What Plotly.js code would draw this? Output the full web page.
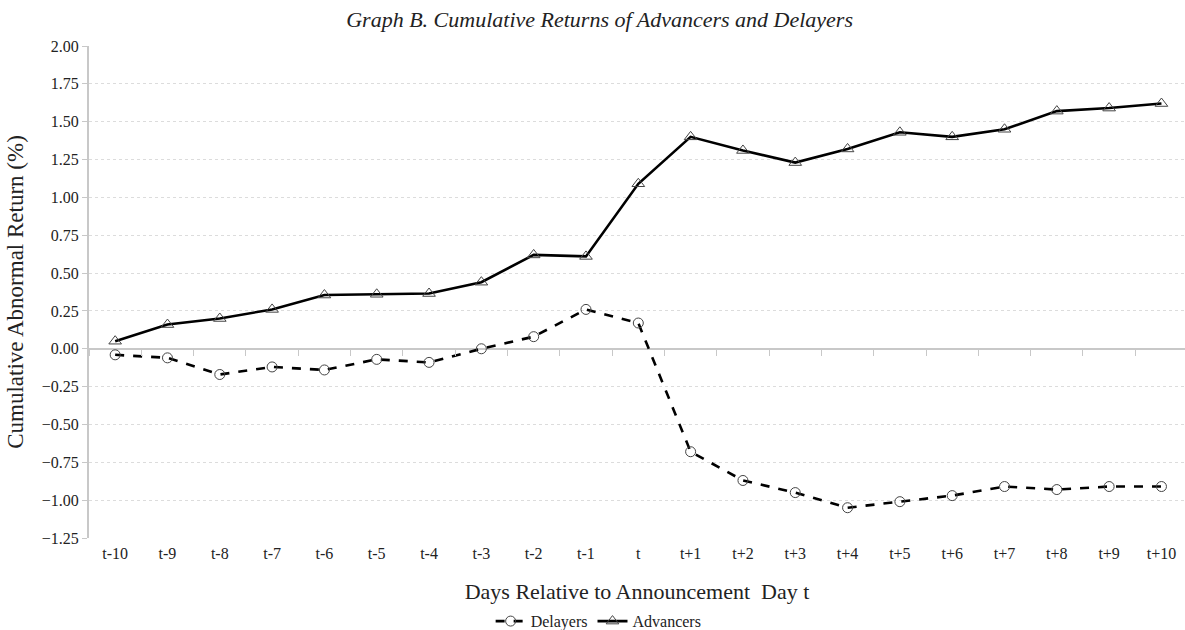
<!DOCTYPE html>
<html>
<head>
<meta charset="utf-8">
<script src="https://cdn.plot.ly/plotly-3.0.1.min.js"></script>
<style>html,body{margin:0;padding:0;background:#fff;}#chart{width:1185px;height:630px;}</style>
</head>
<body>
<div id="chart"></div>
<script>
var days = ["t-10","t-9","t-8","t-7","t-6","t-5","t-4","t-3","t-2","t-1","t","t+1","t+2","t+3","t+4","t+5","t+6","t+7","t+8","t+9","t+10"];
var delayers = [-0.04,-0.06,-0.17,-0.12,-0.14,-0.07,-0.09,0.00,0.08,0.26,0.17,-0.68,-0.87,-0.95,-1.05,-1.01,-0.97,-0.91,-0.93,-0.91,-0.91];
var advancers = [0.05,0.16,0.20,0.26,0.355,0.36,0.365,0.44,0.62,0.61,1.09,1.40,1.31,1.23,1.32,1.43,1.40,1.45,1.57,1.59,1.62];
var yTicks = [2.00,1.75,1.50,1.25,1.00,0.75,0.50,0.25,0.00,-0.25,-0.50,-0.75,-1.00,-1.25];

var FONT = "Liberation Serif, DejaVu Serif, serif";
var yMin = -1.25, yMax = 2.0;

var traces = [
  {x: days, y: delayers, name: "Delayers", type: "scatter", mode: "lines+markers",
   line: {color: "#000", width: 2.6, dash: "dash"},
   marker: {symbol: "circle-open", size: 10, color: "#444", line: {width: 1}}},
  {x: days, y: advancers, name: "Advancers", type: "scatter", mode: "lines+markers",
   line: {color: "#000", width: 2.6},
   marker: {symbol: "triangle-up-open", size: 11, color: "#444", line: {width: 1}}},
  {x: days, y: days.map(function(){return null;}), xaxis: "x2", yaxis: "y",
   showlegend: false, hoverinfo: "skip", type: "scatter", mode: "lines"}
];

var layout = {
  width: 1185, height: 630,
  margin: {l: 89, r: 0, t: 46, b: 92},
  paper_bgcolor: "#fff", plot_bgcolor: "#fff",
  font: {family: FONT, color: "#222", size: 16},
  title: {text: "<i>Graph B. Cumulative Returns of Advancers and Delayers</i>",
          font: {family: FONT, size: 22, color: "#222"}, x: 0.506, xanchor: "center", y: 0.97, yanchor: "middle"},
  xaxis: {type: "category", range: [-0.5, 20.45], showgrid: false, zeroline: false, automargin: false,
          showline: false, ticks: "", tickfont: {family: FONT, size: 16, color: "#222"},
          ticklabelstandoff: 4,
          title: {text: "Days Relative to Announcement  Day t", font: {family: FONT, size: 22, color: "#222"}, standoff: 34}},
  xaxis2: {type: "category", overlaying: "x", matches: "x", anchor: "free", automargin: false,
           position: (0 - yMin) / (yMax - yMin), side: "bottom",
           showticklabels: false, showgrid: false, zeroline: false, showline: false,
           ticks: "outside", ticklen: 6, tickcolor: "#c8c8c8", tickwidth: 1, tickson: "boundaries"},
  yaxis: {range: [yMin, yMax], tickvals: yTicks, tickformat: ".2f", automargin: false,
          showgrid: true, gridcolor: "#dcdcdc", griddash: "dot", gridwidth: 1,
          zeroline: true, zerolinecolor: "#c8c8c8", zerolinewidth: 2,
          showline: true, linecolor: "#c8c8c8", linewidth: 2,
          ticks: "outside", ticklen: 5, tickcolor: "#c8c8c8",
          tickfont: {family: FONT, size: 16, color: "#222"},
          title: {text: "Cumulative Abnormal Return (%)", font: {family: FONT, size: 23, color: "#222"}, standoff: 12}},
  legend: {orientation: "h", x: 0.465, xanchor: "center", yref: "container", y: 0.014, yanchor: "middle",
           font: {family: FONT, size: 16, color: "#222"}, itemwidth: 30, tracegroupgap: 0},
  showlegend: true
};

Plotly.newPlot("chart", traces, layout, {displayModeBar: false, staticPlot: true});
</script>
</body>
</html>
